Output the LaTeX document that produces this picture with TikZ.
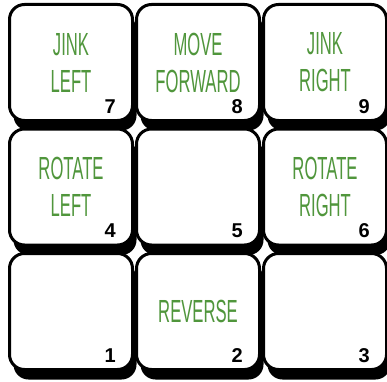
\documentclass[tikz,border=0pt]{standalone}
\usepackage{fontspec}
\newfontfamily\keyfont{Liberation Sans}[FakeStretch=0.52]
\newfontfamily\numfont{Liberation Sans}
\usetikzlibrary{positioning, shadows}
\definecolor{keygreen}{RGB}{80,150,60}

\begin{document}
\begin{tikzpicture}[x=1pt, y=1pt,
    keyface/.style={draw=black, line width=3pt, fill=white, rounded corners=15pt,
      minimum width=123pt, minimum height=116pt, inner sep=0pt,
      text=keygreen, align=center, font=\keyfont\fontsize{32}{37}\selectfont,
      drop shadow={shadow xshift=4pt, shadow yshift=-10pt, fill=black, opacity=1}},
    keynum/.style={anchor=base east, inner sep=0pt,
      font=\numfont\bfseries\fontsize{20}{24}\selectfont}]
  \useasboundingbox (0,0) rectangle (387,381);

  % Touches du pavé (rangées de haut en bas)
  \foreach \n/\c/\r/\txt in {7/0/0/{JINK\\LEFT}, 8/1/0/{MOVE\\FORWARD}, 9/2/0/{JINK\\RIGHT},
                             4/0/1/{ROTATE\\LEFT}, 5/1/1/{}, 6/2/1/{ROTATE\\RIGHT},
                             1/0/2/{}, 2/1/2/{REVERSE}, 3/2/2/{}} {
    \node[keyface] (k\n) at ({71 + 127*\c}, {318.5 - 124.5*\r}) {\txt};
    \node[keynum] (n\n) at ([xshift=-18pt, yshift=9pt]k\n.south east) {\n};
  }
\end{tikzpicture}
\end{document}
